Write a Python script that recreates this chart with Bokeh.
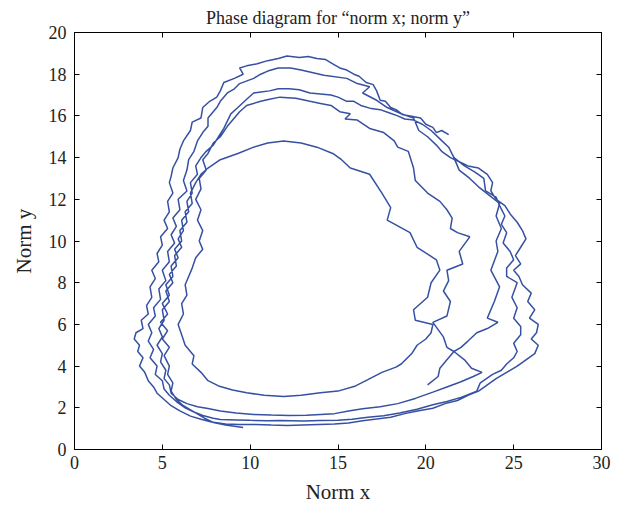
from bokeh.plotting import figure
from bokeh.models import LinearAxis, FixedTicker, Range1d
from bokeh.embed import file_html
from bokeh.resources import INLINE

x_ticks = [0, 5, 10, 15, 20, 25, 30]
y_ticks = [0, 2, 4, 6, 8, 10, 12, 14, 16, 18, 20]

# trajectory, one list per revolution (x, y)
rev1 = [(21.3,15.1),(20.9,15.3),(20.6,15.2),(20.4,15.45),(20.0,15.6),(19.7,15.9),(19.1,16.0),(18.7,16.05),(18.3,16.3),(18.0,16.4),(17.7,16.7),(17.4,16.75),(17.2,17.2),(17.0,17.5),(16.6,17.6),(16.2,17.9),(15.9,18.0),(15.5,18.2),(15.1,18.3),(14.7,18.5),(14.3,18.7),(13.8,18.75),(13.3,18.85),(12.8,18.8),(12.1,18.87),(11.6,18.75),(11.0,18.65),(10.4,18.5),(9.8,18.4),(9.4,18.3),(9.6,18.0),(9.1,17.8),(8.5,17.6),(8.3,17.2),(8.1,16.9),(7.7,16.7),(7.3,16.4),(7.2,15.9),(6.7,15.7),(6.6,15.3),(6.2,14.8),(6.0,14.4),(5.9,14.0),(5.6,13.5),(5.5,13.1),(5.4,12.8),(5.6,12.3),(5.3,11.9),(5.4,11.4),(5.1,11.0),(5.3,10.6),(4.9,10.2),(5.0,9.8),(4.7,9.4),(4.8,9.0),(4.4,8.6),(4.6,8.2),(4.3,7.8),(4.4,7.3),(4.1,6.9),(4.2,6.5),(3.8,6.2),(3.9,5.8),(3.5,5.6),(3.4,5.3),(3.7,5.0),(3.6,4.7),(3.9,4.4),(3.7,4.0),(4.0,3.7),(4.2,3.3),(4.5,3.0),(4.7,2.7),(5.1,2.4),(5.5,2.1),(6.0,1.85),(6.6,1.6),(7.2,1.45),(7.8,1.32),(8.6,1.22),(9.4,1.2),(10.3,1.2),(11.2,1.17),(12.1,1.15),(13.0,1.18),(13.9,1.2),(14.8,1.22),(15.6,1.27),(16.4,1.38),(17.2,1.46),(18.0,1.55),(18.8,1.72),(19.6,1.86),(20.4,1.98),(21.1,2.2),(21.8,2.35),(22.4,2.6),(23.0,2.8),(23.5,3.1),(24.0,3.4),(24.6,3.7),(25.2,4.0),(25.7,4.3),(26.2,4.6),(26.4,5.0),(26.0,5.3),(26.3,5.6),(26.4,6.0),(25.9,6.3),(26.2,6.7),(25.8,7.1),(26.0,7.5),(25.5,7.9),(25.3,8.3),(25.0,8.6),(25.4,8.9),(25.1,9.3),(25.4,9.7),(25.7,10.1),(25.5,10.5),(25.2,10.9),(24.8,11.3),(24.5,11.7),(24.0,12.0),(23.7,12.4),(23.8,12.8),(23.5,13.2),(23.0,13.5),(22.4,13.6),(21.9,13.8),(21.4,14.0),(20.9,14.3),(20.6,14.6),(20.1,15.0)]

rev2 = [(20.1,15.0),(19.6,15.3),(19.3,15.9),(18.6,16.1),(17.8,16.4),(17.2,16.75),(16.4,17.1),(16.8,17.4),(16.1,17.55),(15.5,17.8),(14.2,17.95),(12.9,18.2),(12.3,18.3),(11.6,18.3),(11.0,18.15),(10.6,18.0),(10.2,17.8),(9.4,17.55),(9.1,17.3),(8.7,17.1),(8.3,16.7),(8.1,16.4),(7.6,15.9),(7.6,15.5),(7.3,15.2),(7.0,14.8),(6.8,14.3),(6.5,13.9),(6.4,13.4),(6.2,12.9),(6.4,12.4),(5.9,12.0),(6.0,11.5),(5.6,11.1),(5.8,10.7),(5.5,10.3),(5.7,9.9),(5.3,9.5),(5.4,9.0),(5.0,8.6),(5.2,8.1),(4.8,7.7),(4.9,7.2),(4.5,6.8),(4.6,6.4),(4.2,6.0),(4.4,5.6),(4.2,5.2),(4.5,4.8),(4.3,4.4),(4.7,4.0),(4.6,3.6),(5.0,3.3),(5.1,2.9),(5.4,2.6),(5.8,2.3),(6.3,2.0),(6.8,1.8),(7.3,1.63),(7.9,1.5),(8.3,1.44),(9.2,1.42),(10.0,1.4),(11.0,1.38),(11.7,1.39),(13.0,1.37),(14.0,1.39),(15.0,1.4),(15.8,1.45),(16.7,1.55),(17.6,1.62),(18.5,1.75),(19.5,1.93),(20.4,2.15),(21.2,2.3),(22.0,2.5),(22.9,2.8),(23.1,3.2),(23.8,3.6),(24.3,3.8),(24.6,4.1),(25.0,4.4),(25.2,4.7),(25.0,5.1),(25.4,5.5),(25.4,5.9),(25.0,6.3),(25.2,6.8),(24.9,7.3),(25.2,8.0),(24.6,8.3),(24.6,8.7),(25.0,9.1),(24.8,9.5),(24.4,9.9),(24.6,10.4),(24.3,10.8),(24.5,11.2),(24.2,11.7),(24.0,12.1),(23.4,12.4),(23.3,13.0),(22.8,13.3),(22.2,13.6),(21.6,14.0),(21.3,14.5),(20.8,14.9),(20.3,15.3)]

rev3 = [(20.3,15.3),(19.8,15.6),(19.3,15.8),(18.8,15.85),(18.4,16.0),(17.9,16.15),(17.4,16.3),(16.9,16.35),(16.3,16.5),(15.9,16.7),(15.5,16.7),(15.0,16.9),(14.6,17.0),(14.0,17.05),(13.4,17.1),(12.8,17.25),(12.2,17.3),(11.6,17.3),(11.1,17.2),(10.6,17.15),(10.2,17.1),(9.8,16.8),(9.3,16.4),(8.9,16.1),(8.5,15.4),(8.2,15.0),(7.9,14.6),(7.5,14.3),(7.2,14.0),(6.9,13.6),(7.0,13.2),(6.6,12.8),(6.7,12.3),(6.4,11.9),(6.5,11.4),(6.1,11.0),(6.2,10.5),(5.9,10.1),(6.1,9.7),(5.7,9.3),(5.8,8.8),(5.4,8.4),(5.6,8.0),(5.2,7.6),(5.4,7.1),(5.0,6.7),(5.1,6.2),(4.8,5.8),(5.0,5.4),(4.7,5.0),(5.0,4.6),(4.9,4.2),(5.2,3.8),(5.1,3.4),(5.4,3.1),(5.5,2.7),(5.9,2.4),(6.4,2.2),(7.0,2.05),(7.6,1.97),(8.3,1.85),(9.2,1.75),(10.2,1.68),(11.2,1.65),(12.2,1.63),(13.2,1.64),(14.0,1.68),(14.8,1.72),(15.6,1.85),(16.4,1.95),(17.4,2.05),(18.4,2.2),(19.4,2.45),(20.4,2.75),(21.2,3.0),(22.0,3.25),(22.7,3.5),(23.2,3.7),(22.6,3.9),(22.2,4.3),(21.6,4.7),(21.2,4.9),(21.0,5.4),(20.4,6.1),(21.2,6.4),(21.4,7.1),(21.0,7.6),(21.3,8.1),(21.2,8.6),(22.1,8.9),(21.9,9.5),(22.5,10.2),(21.8,10.4),(21.4,10.6),(21.5,11.1),(21.2,11.5),(20.8,11.9),(20.1,12.3),(19.4,12.9),(19.3,13.5),(19.0,14.3),(18.4,14.5),(18.2,14.8)]

rev4 = [(18.2,14.8),(17.6,15.2),(16.8,15.4),(16.1,15.8),(15.4,15.85),(15.7,16.1),(15.1,16.2),(14.6,16.5),(14.0,16.6),(13.4,16.7),(12.6,16.85),(11.7,16.9),(11.1,16.8),(10.6,16.7),(9.8,16.5),(9.4,16.2),(9.1,15.9),(8.7,15.5),(8.3,15.0),(7.9,14.7),(7.6,14.2),(7.3,13.9),(7.5,13.4),(7.1,13.0),(7.2,12.5),(6.9,12.0),(7.2,11.5),(7.0,11.0),(7.3,10.5),(7.1,10.0),(7.3,9.6),(6.9,9.2),(6.7,8.7),(6.5,8.3),(6.3,7.9),(6.4,7.4),(6.1,7.0),(6.2,6.5),(5.9,6.0),(6.1,5.5),(6.3,5.0),(6.8,4.5),(6.7,4.1),(7.2,3.7),(7.6,3.3),(8.2,3.05),(9.0,2.85),(9.8,2.72),(10.8,2.6),(11.9,2.54),(12.9,2.6),(14.0,2.72),(15.0,2.8),(16.0,3.05),(16.7,3.35),(17.5,3.7),(18.3,3.95),(18.6,4.1),(19.2,4.6),(19.5,5.0),(20.0,5.3),(20.3,5.6),(20.4,6.0),(19.4,6.2),(19.3,6.7),(20.1,7.3),(20.3,8.0),(20.8,8.6),(20.6,9.1),(19.5,9.7),(19.1,10.4),(17.8,11.0),(18.0,11.6),(17.5,12.3),(16.8,13.2),(15.7,13.5),(15.2,13.9),(14.7,14.2),(13.8,14.5),(12.9,14.7)]

rev5 = [(12.9,14.7),(11.9,14.8),(11.0,14.7),(10.2,14.5),(9.3,14.2),(8.3,13.9),(7.6,13.5),(7.2,13.2),(6.9,12.8),(6.6,12.3),(6.7,11.8),(6.3,11.4),(6.4,10.9),(6.0,10.5),(6.1,10.0),(5.7,9.6),(5.9,9.2),(5.5,8.8),(5.6,8.3),(5.2,7.9),(5.4,7.4),(5.0,7.0),(5.3,6.5),(4.9,6.1),(5.3,5.7),(5.0,5.3),(5.4,4.9),(5.1,4.5),(5.4,4.0),(5.3,3.6),(5.6,3.2),(5.5,2.8),(5.8,2.4),(6.2,2.1),(6.8,1.8),(7.4,1.5),(7.9,1.3),(8.6,1.18),(9.6,1.05)]

spur = [(20.1,3.1),(20.7,3.5),(20.8,3.9),(21.2,4.3),(21.6,4.7),(22.0,4.9),(22.4,5.2),(22.9,5.6),(23.5,5.8),(24.1,6.1),(23.5,6.3),(23.9,7.1),(24.2,7.8),(23.7,8.6),(24.1,9.5),(24.0,10.0),(24.3,10.6),(24.0,11.2),(24.2,11.8),(23.6,12.2),(23.0,12.6),(22.5,13.0),(21.9,13.4),(21.6,14.0)]

LINE_COLOR = "#3650a2"
FONT = "Liberation Serif"

p = figure(width=632, height=513, x_range=Range1d(0, 30), y_range=Range1d(0, 20),
           output_backend="svg", toolbar_location=None,
           title="Phase diagram for \u201cnorm x; norm y\u201d",
           min_border_left=74, min_border_right=31, min_border_top=32, min_border_bottom=64)

path = rev1 + rev2[1:] + rev3[1:] + rev4[1:] + rev5[1:]
p.line([q[0] for q in path], [q[1] for q in path], line_color=LINE_COLOR, line_width=1.5)
p.line([q[0] for q in spur], [q[1] for q in spur], line_color=LINE_COLOR, line_width=1.5)

p.xgrid.visible = False
p.ygrid.visible = False
p.outline_line_color = "black"
p.background_fill_color = "white"

p.title.align = "center"
p.title.text_font = FONT
p.title.text_font_size = "18px"
p.title.text_font_style = "normal"
p.title.text_color = "#222222"
p.title.standoff = 10


def style(ax, ticks, labels=True):
    ax.ticker = FixedTicker(ticks=ticks)
    ax.major_tick_in = 5
    ax.major_tick_out = 0
    ax.minor_tick_line_color = None
    ax.axis_line_color = "black"
    ax.major_tick_line_color = "black"
    ax.major_label_text_font = FONT
    if labels:
        ax.major_label_text_color = "#222222"
        ax.major_label_text_font_size = "18px"
        ax.axis_label_text_font = FONT
        ax.axis_label_text_font_size = "21px"
        ax.axis_label_text_font_style = "normal"
        ax.axis_label_text_color = "#222222"
    else:
        ax.major_label_text_color = None
        ax.major_label_text_font_size = "1px"
        ax.major_label_standoff = 0


style(p.xaxis[0], x_ticks)
p.xaxis[0].axis_label = "Norm x"
p.xaxis[0].major_label_standoff = 6
p.xaxis[0].axis_label_standoff = 8
style(p.yaxis[0], y_ticks)
p.yaxis[0].axis_label = "Norm y"
p.yaxis[0].major_label_standoff = 8
p.yaxis[0].axis_label_standoff = 10

top_ax = LinearAxis()
style(top_ax, x_ticks, labels=False)
p.add_layout(top_ax, "above")
right_ax = LinearAxis()
style(right_ax, y_ticks, labels=False)
p.add_layout(right_ax, "right")

open("out.html", "w").write(file_html(p, INLINE))
